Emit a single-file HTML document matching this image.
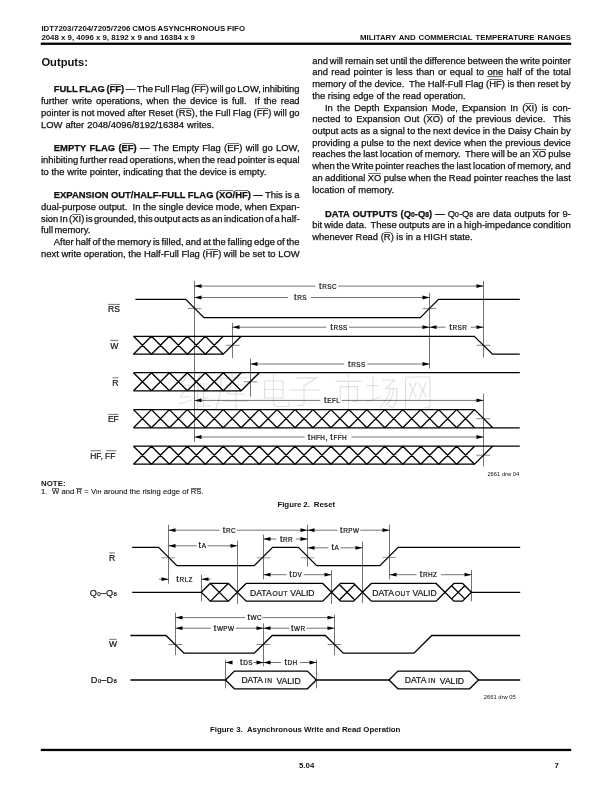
<!DOCTYPE html>
<html lang="en"><head><meta charset="utf-8"><title>IDT7203 page 7</title><style>

html,body{margin:0;padding:0;background:#fff;}
body{width:612px;height:792px;position:relative;overflow:hidden;font-family:"Liberation Sans",sans-serif;color:#111;}
.l{position:absolute;white-space:nowrap;line-height:21px;height:21px;}
.bt{font-size:9.42px;-webkit-text-stroke:0.25px #111;}
.sm{font-size:7.85px;font-weight:bold;}
.nt{font-size:7.6px;-webkit-text-stroke:0.1px #111;}
.h1{font-size:11.2px;font-weight:bold;line-height:20px;height:20px;}
.ov{background:linear-gradient(#111,#111) no-repeat 0 0.9px/100% 0.6px;}
.sm .ov,.nt .ov{background-position:0 1.1px;}
.ul{background:linear-gradient(#111,#111) no-repeat 0 9.6px/100% 0.6px;}
.sb{font-size:0.72em;}
.sc{font-size:0.72em;}
#pg{position:absolute;left:0;top:0;width:612px;height:792px;overflow:hidden;will-change:transform;filter:grayscale(1);background:#fff;}
svg{position:absolute;left:0;top:0;}
.dl{font-family:"Liberation Sans",sans-serif;fill:#111;stroke:#111;stroke-width:0.2px;}

</style></head><body><div id="pg">
<div class="l bt" id="t0" style="left:53.80px;top:78px;word-spacing:-1.004px;"><b>FULL FLAG (<span class="ov">FF</span>)</b> — The Full Flag (<span class="ov">FF</span>) will go LOW, inhibiting</div>
<div class="l bt" id="t1" style="left:41.00px;top:90px;word-spacing:1.359px;">further write operations, when the device is full.&nbsp; If the read</div>
<div class="l bt" id="t2" style="left:41.00px;top:102px;word-spacing:-0.235px;">pointer is not moved after Reset (<span class="ov">RS</span>), the Full Flag (<span class="ov">FF</span>) will go</div>
<div class="l bt" id="t3" style="left:41.00px;top:114px;word-spacing:0.351px;">LOW after 2048/4096/8192/16384 writes.</div>
<div class="l bt" id="t4" style="left:53.80px;top:137px;word-spacing:0.775px;"><b>EMPTY FLAG (<span class="ov">EF</span>)</b> — The Empty Flag (<span class="ov">EF</span>) will go LOW,</div>
<div class="l bt" id="t5" style="left:41.00px;top:149px;word-spacing:-0.841px;">inhibiting further read operations, when the read pointer is equal</div>
<div class="l bt" id="t6" style="left:41.00px;top:161px;word-spacing:0.013px;">to the write pointer, indicating that the device is empty.</div>
<div class="l bt" id="t7" style="left:53.80px;top:184px;word-spacing:-0.203px;"><b>EXPANSION OUT/HALF-FULL FLAG (<span class="ov">XO</span>/<span class="ov">HF</span>) —</b> This is a</div>
<div class="l bt" id="t8" style="left:41.00px;top:196px;word-spacing:0.030px;">dual-purpose output.&nbsp; In the single device mode, when Expan-</div>
<div class="l bt" id="t9" style="left:41.00px;top:208px;word-spacing:-1.104px;">sion In (<span class="ov">XI</span>) is grounded, this output acts as an indication of a half-</div>
<div class="l bt" id="t10" style="left:41.00px;top:219px;word-spacing:-1.231px;">full memory.</div>
<div class="l bt" id="t11" style="left:53.80px;top:231px;word-spacing:-0.761px;">After half of the memory is filled, and at the falling edge of the</div>
<div class="l bt" id="t12" style="left:41.00px;top:243px;word-spacing:-0.016px;">next write operation, the Half-Full Flag (<span class="ov">HF</span>) will be set to LOW</div>
<div class="l bt" id="t13" style="left:312.20px;top:50px;word-spacing:-0.632px;">and will remain set until the difference between the write pointer</div>
<div class="l bt" id="t14" style="left:312.20px;top:61px;word-spacing:0.824px;">and read pointer is less than or equal to <span class="ul">one</span> half of the total</div>
<div class="l bt" id="t15" style="left:312.20px;top:73px;word-spacing:-0.132px;">memory of the device.&nbsp; The Half-Full Flag (<span class="ov">HF</span>) is then reset by</div>
<div class="l bt" id="t16" style="left:312.20px;top:85px;word-spacing:-0.042px;">the rising edge of the read operation.</div>
<div class="l bt" id="t17" style="left:325.00px;top:97px;word-spacing:1.573px;">In the Depth Expansion Mode, Expansion In (<span class="ov">XI</span>) is con-</div>
<div class="l bt" id="t18" style="left:312.20px;top:108px;word-spacing:1.354px;">nected to Expansion Out (<span class="ov">XO</span>) of the previous device.&nbsp; This</div>
<div class="l bt" id="t19" style="left:312.20px;top:120px;word-spacing:-0.218px;">output acts as a signal to the next device in the Daisy Chain by</div>
<div class="l bt" id="t20" style="left:312.20px;top:132px;word-spacing:0.237px;">providing a pulse to the next device when the previous device</div>
<div class="l bt" id="t21" style="left:312.20px;top:143px;word-spacing:-0.381px;">reaches the last location of memory.&nbsp; There will be an <span class="ov">XO</span> pulse</div>
<div class="l bt" id="t22" style="left:312.20px;top:155px;word-spacing:-0.667px;">when the Write pointer reaches the last location of memory, and</div>
<div class="l bt" id="t23" style="left:312.20px;top:167px;word-spacing:-0.235px;">an additional <span class="ov">XO</span> pulse when the Read pointer reaches the last</div>
<div class="l bt" id="t24" style="left:312.20px;top:179px;word-spacing:0.305px;">location of memory.</div>
<div class="l bt" id="t25" style="left:325.00px;top:203px;word-spacing:0.507px;"><b>DATA OUTPUTS (Q<span class="sb">0</span>-Q<span class="sb">8</span>) —</b> Q<span class="sb">0</span>-Q<span class="sb">8</span> are data outputs for 9-</div>
<div class="l bt" id="t26" style="left:312.20px;top:214px;word-spacing:-0.531px;">bit wide data.&nbsp; These outputs are in a high-impedance condition</div>
<div class="l bt" id="t27" style="left:312.20px;top:226px;word-spacing:-0.002px;">whenever Read (<span class="ov">R</span>) is in a HIGH state.</div>
<div class="l sm" id="t28" style="left:41.40px;top:18px;word-spacing:-0.191px;">IDT7203/7204/7205/7206 CMOS ASYNCHRONOUS FIFO</div>
<div class="l sm" id="t29" style="left:41.40px;top:27px;word-spacing:0.007px;">2048 x 9, 4096 x 9, 8192 x 9 and 16384 x 9</div>
<div class="l sm" id="t30" style="left:360.00px;top:27px;word-spacing:0.746px;">MILITARY AND COMMERCIAL TEMPERATURE RANGES</div>
<div class="l h1" id="t31" style="left:41.40px;top:52px;">Outputs:</div>
<div class="l sm" id="t32" style="left:41.10px;top:473px;">NOTE:</div>
<div class="l nt" id="t33" style="left:41.10px;top:481px;word-spacing:0.180px;">1.&nbsp; <span class="ov">W</span> and <span class="ov">R</span> = V<span class="sc">IH</span> around the rising edge of <span class="ov">RS</span>.</div>
<div class="l sm" id="t34" style="left:277.40px;top:494px;word-spacing:-0.207px;">Figure 2.&nbsp; Reset</div>
<div class="l sm" id="t35" style="left:210.00px;top:719px;word-spacing:0.053px;">Figure 3.&nbsp; Asynchronous Write and Read Operation</div>
<div class="l sm" id="t36" style="left:299.00px;top:755px;">5.04</div>
<div class="l sm" id="t37" style="left:554.40px;top:755px;">7</div>
<svg width="612" height="792" viewBox="0 0 612 792">
<path transform="translate(-35.5 0)" d="M223 375L217 385H225L216 396M215 404L227 400M216 397H226M236 374L231 384M233 381V408M233 384H245M233 391H244M233 398H244M233 406H246M239 384V406" fill="none" stroke="#e0e0e0" stroke-width="1.15" stroke-linecap="round"/>
<path transform="translate(-30 0)" d="M262 373V377M250 378H277M251 378Q251 398 246 408M256 385H274M263 381L257 394H275M266 388V409M253 401H278" fill="none" stroke="#e0e0e0" stroke-width="1.15" stroke-linecap="round"/>
<path d="M264.5 381H283V398H264.5ZM264.5 389.5H283M273.5 375V403Q274 406.5 279 406.5H289V402M297 377.8H316.5L304 386V404Q304 406 298 405.5M290 390H319.5M348.5 374.5V377.5M335.8 381.3H361.3M340.3 386.6V401.5M340.3 386.6H357.4V400Q357.4 402 353 401.5M348.5 381.3V409M367 385.6H378.5M373 377V400M367 402L380 397M382.5 380H394.5L386 388.5H397Q397 407 391.5 407.5L389 406M390.5 388.5Q388 400 380 407M394 388.5Q393 398 386.5 405M405.6 377V408.5M405.6 377H430V405.5Q430 408 425 407.5M409.5 383L416 397M416 383L409 399M419 383L426 397M426 383L419 399" fill="none" stroke="#e0e0e0" stroke-width="1.15" stroke-linecap="round"/>
<path d="M135.4 299.4H185.7L203.9 317.6H420.3L438.5 299.4H519.8" fill="none" stroke="#000" stroke-width="1.3" stroke-linejoin="miter"/>
<path d="M133.50 336.3L151.45 354.2M133.50 354.2L151.45 336.3M151.45 336.3L169.40 354.2M151.45 354.2L169.40 336.3M169.40 336.3L187.35 354.2M169.40 354.2L187.35 336.3M187.35 336.3L205.30 354.2M187.35 354.2L205.30 336.3M205.30 336.3L223.25 354.2M205.30 354.2L223.25 336.3" fill="none" stroke="#000" stroke-width="1.3" stroke-linejoin="miter"/>
<path d="M133.5 354.2H223.25L241.15 336.3M133.5 336.3H474.3L492.5 354.2H519.8" fill="none" stroke="#000" stroke-width="1.3" stroke-linejoin="miter"/>
<path d="M133.50 372.7L151.45 390.8M133.50 390.8L151.45 372.7M151.45 372.7L169.40 390.8M151.45 390.8L169.40 372.7M169.40 372.7L187.35 390.8M169.40 390.8L187.35 372.7M187.35 372.7L205.30 390.8M187.35 390.8L205.30 372.7M205.30 372.7L223.25 390.8M205.30 390.8L223.25 372.7M223.25 372.7L241.20 390.8M223.25 390.8L241.20 372.7" fill="none" stroke="#000" stroke-width="1.3" stroke-linejoin="miter"/>
<path d="M133.5 390.8H241.20L259.30 372.7M133.5 372.7H519.8" fill="none" stroke="#000" stroke-width="1.3" stroke-linejoin="miter"/>
<path d="M133.50 409.6L151.45 427.8M133.50 427.8L151.45 409.6M151.45 409.6L169.40 427.8M151.45 427.8L169.40 409.6M169.40 409.6L187.35 427.8M169.40 427.8L187.35 409.6M187.35 409.6L205.30 427.8M187.35 427.8L205.30 409.6M205.30 409.6L223.25 427.8M205.30 427.8L223.25 409.6M223.25 409.6L241.20 427.8M223.25 427.8L241.20 409.6M241.20 409.6L259.15 427.8M241.20 427.8L259.15 409.6M259.15 409.6L277.10 427.8M259.15 427.8L277.10 409.6M277.10 409.6L295.05 427.8M277.10 427.8L295.05 409.6M295.05 409.6L313.00 427.8M295.05 427.8L313.00 409.6M313.00 409.6L330.95 427.8M313.00 427.8L330.95 409.6M330.95 409.6L348.90 427.8M330.95 427.8L348.90 409.6M348.90 409.6L366.85 427.8M348.90 427.8L366.85 409.6M366.85 409.6L384.80 427.8M366.85 427.8L384.80 409.6M384.80 409.6L402.75 427.8M384.80 427.8L402.75 409.6M402.75 409.6L420.70 427.8M402.75 427.8L420.70 409.6M420.70 409.6L438.65 427.8M420.70 427.8L438.65 409.6M438.65 409.6L456.60 427.8M438.65 427.8L456.60 409.6M456.60 409.6L474.55 427.8M456.60 427.8L474.55 409.6" fill="none" stroke="#000" stroke-width="1.3" stroke-linejoin="miter"/>
<path d="M133.5 409.6H474.55L492.75 427.8M133.5 427.8H519.8" fill="none" stroke="#000" stroke-width="1.3" stroke-linejoin="miter"/>
<path d="M133.50 446.2L151.45 464.2M133.50 464.2L151.45 446.2M151.45 446.2L169.40 464.2M151.45 464.2L169.40 446.2M169.40 446.2L187.35 464.2M169.40 464.2L187.35 446.2M187.35 446.2L205.30 464.2M187.35 464.2L205.30 446.2M205.30 446.2L223.25 464.2M205.30 464.2L223.25 446.2M223.25 446.2L241.20 464.2M223.25 464.2L241.20 446.2M241.20 446.2L259.15 464.2M241.20 464.2L259.15 446.2M259.15 446.2L277.10 464.2M259.15 464.2L277.10 446.2M277.10 446.2L295.05 464.2M277.10 464.2L295.05 446.2M295.05 446.2L313.00 464.2M295.05 464.2L313.00 446.2M313.00 446.2L330.95 464.2M313.00 464.2L330.95 446.2M330.95 446.2L348.90 464.2M330.95 464.2L348.90 446.2M348.90 446.2L366.85 464.2M348.90 464.2L366.85 446.2M366.85 446.2L384.80 464.2M366.85 464.2L384.80 446.2M384.80 446.2L402.75 464.2M384.80 464.2L402.75 446.2M402.75 446.2L420.70 464.2M402.75 464.2L420.70 446.2M420.70 446.2L438.65 464.2M420.70 464.2L438.65 446.2M438.65 446.2L456.60 464.2M438.65 464.2L456.60 446.2M456.60 446.2L474.55 464.2M456.60 464.2L474.55 446.2" fill="none" stroke="#000" stroke-width="1.3" stroke-linejoin="miter"/>
<path d="M133.5 464.2H474.55L492.55 446.2M133.5 446.2H519.8" fill="none" stroke="#000" stroke-width="1.3" stroke-linejoin="miter"/>
<path d="M194.5 281.1V441.7" fill="none" stroke="#000" stroke-width="0.55"/>
<path d="M232.5 322.8V358.2" fill="none" stroke="#000" stroke-width="0.55"/>
<path d="M250.5 358.7V396.7" fill="none" stroke="#000" stroke-width="0.55"/>
<path d="M429.5 292.9V368.5" fill="none" stroke="#000" stroke-width="0.55"/>
<path d="M483.5 281.0V357.6" fill="none" stroke="#000" stroke-width="0.55"/>
<path d="M483.5 393.7V466.5" fill="none" stroke="#000" stroke-width="0.55"/>
<path d="M187.7 308.6H201.3" fill="none" stroke="#222" stroke-width="0.55"/>
<path d="M226.0 345.3H239.60000000000002" fill="none" stroke="#222" stroke-width="0.55"/>
<path d="M243.79999999999998 381.8H257.4" fill="none" stroke="#222" stroke-width="0.55"/>
<path d="M422.7 308.6H436.3" fill="none" stroke="#222" stroke-width="0.55"/>
<path d="M476.7 345.3H490.3" fill="none" stroke="#222" stroke-width="0.55"/>
<path d="M476.5 418.7H490.1" fill="none" stroke="#222" stroke-width="0.55"/>
<path d="M476.5 455.2H490.1" fill="none" stroke="#222" stroke-width="0.55"/>
<path d="M194.5 286.1H315.3" fill="none" stroke="#000" stroke-width="0.55"/>
<path d="M338.2 286.1H483.5" fill="none" stroke="#000" stroke-width="0.55"/>
<path d="M194.5 286.1L201.50 284.20000000000005V288.0Z" fill="#000"/>
<path d="M483.5 286.1L476.50 284.20000000000005V288.0Z" fill="#000"/>
<text class="dl" x="319.0" y="288.6" font-size="9.0">t<tspan dx="0.7" font-size="6.4" letter-spacing="0.4">RSC</tspan></text>
<path d="M194.5 297.5H288.1" fill="none" stroke="#000" stroke-width="0.55"/>
<path d="M311.1 297.5H429.5" fill="none" stroke="#000" stroke-width="0.55"/>
<path d="M194.5 297.5L201.50 295.6V299.4Z" fill="#000"/>
<path d="M429.5 297.5L422.50 295.6V299.4Z" fill="#000"/>
<text class="dl" x="294.0" y="299.9" font-size="9.0">t<tspan dx="0.7" font-size="6.4" letter-spacing="0.4">RS</tspan></text>
<path d="M232.5 327.2H326.4" fill="none" stroke="#000" stroke-width="0.55"/>
<path d="M349.0 327.2H429.5" fill="none" stroke="#000" stroke-width="0.55"/>
<path d="M232.5 327.2L239.50 325.3V329.09999999999997Z" fill="#000"/>
<path d="M429.5 327.2L422.50 325.3V329.09999999999997Z" fill="#000"/>
<text class="dl" x="330.2" y="329.8" font-size="9.0">t<tspan dx="0.7" font-size="6.4" letter-spacing="0.4">RSS</tspan></text>
<path d="M429.5 327.2H445.6" fill="none" stroke="#000" stroke-width="0.55"/>
<path d="M470.6 327.2H483.5" fill="none" stroke="#000" stroke-width="0.55"/>
<path d="M429.5 327.2L436.50 325.3V329.09999999999997Z" fill="#000"/>
<path d="M483.5 327.2L476.50 325.3V329.09999999999997Z" fill="#000"/>
<text class="dl" x="449.3" y="329.9" font-size="9.0">t<tspan dx="0.7" font-size="6.4" letter-spacing="0.4">RSR</tspan></text>
<path d="M250.5 364.0H344.1" fill="none" stroke="#000" stroke-width="0.55"/>
<path d="M367.3 364.0H429.5" fill="none" stroke="#000" stroke-width="0.55"/>
<path d="M250.5 364.0L257.50 362.1V365.9Z" fill="#000"/>
<path d="M429.5 364.0L422.50 362.1V365.9Z" fill="#000"/>
<text class="dl" x="348.1" y="366.8" font-size="9.0">t<tspan dx="0.7" font-size="6.4" letter-spacing="0.4">RSS</tspan></text>
<path d="M194.5 400.4H320.4" fill="none" stroke="#000" stroke-width="0.55"/>
<path d="M341.7 400.4H483.5" fill="none" stroke="#000" stroke-width="0.55"/>
<path d="M194.5 400.4L201.50 398.5V402.29999999999995Z" fill="#000"/>
<path d="M483.5 400.4L476.50 398.5V402.29999999999995Z" fill="#000"/>
<text class="dl" x="324.1" y="402.8" font-size="9.0">t<tspan dx="0.7" font-size="6.4" letter-spacing="0.4">EFL</tspan></text>
<path d="M194.5 437.0H304.6" fill="none" stroke="#000" stroke-width="0.55"/>
<path d="M351.5 437.0H483.5" fill="none" stroke="#000" stroke-width="0.55"/>
<path d="M194.5 437.0L201.50 435.1V438.9Z" fill="#000"/>
<path d="M483.5 437.0L476.50 435.1V438.9Z" fill="#000"/>
<text class="dl" x="307.7" y="440.0" font-size="9">t<tspan dx="0.7" font-size="6.4" letter-spacing="0.4">HFH</tspan><tspan font-size="9">, t</tspan><tspan dx="0.7" font-size="6.4" letter-spacing="0.4">FFH</tspan></text>
<text class="dl" x="108.0" y="311.7" font-size="8.6" text-anchor="start">RS</text>
<path d="M108.2 304.4H120.0" fill="none" stroke="#111" stroke-width="0.6"/>
<text class="dl" x="110.2" y="348.6" font-size="8.6" text-anchor="start">W</text>
<path d="M110.4 340.4H118.2" fill="none" stroke="#111" stroke-width="0.6"/>
<text class="dl" x="112.3" y="385.7" font-size="8.6" text-anchor="start">R</text>
<path d="M112.5 377.8H118.4" fill="none" stroke="#111" stroke-width="0.6"/>
<text class="dl" x="107.9" y="421.7" font-size="8.6" text-anchor="start">EF</text>
<path d="M108.2 414.4H118.5" fill="none" stroke="#111" stroke-width="0.6"/>
<text class="dl" x="90.2" y="458.6" font-size="8.4" text-anchor="start">HF, FF</text>
<path d="M90.4 450.7H101.0" fill="none" stroke="#111" stroke-width="0.6"/>
<path d="M106.2 450.7H116.2" fill="none" stroke="#111" stroke-width="0.6"/>
<text class="dl" x="487.4" y="475.6" font-size="5.8" style="stroke-width:0">2661 drw 04</text>
<path d="M132.2 547.4H158.6L176.9 565.6H254.3L272.6 547.4H298.4L316.7 565.6H379.9L398.2 547.4H520.2" fill="none" stroke="#000" stroke-width="1.3" stroke-linejoin="miter"/>
<path d="M132.2 592.3H201.3" fill="none" stroke="#000" stroke-width="1.3" stroke-linejoin="miter"/>
<path d="M201.3 592.3L210.15 583.45H228.45L237.3 592.3L228.45 601.15H210.15Z" fill="none" stroke="#000" stroke-width="1.3" stroke-linejoin="miter"/>
<path d="M210.45 583.45L228.15 601.15M210.45 601.15L228.15 583.45" fill="none" stroke="#000" stroke-width="1.3" stroke-linejoin="miter"/>
<path d="M237.3 592.3L246.15 583.45H322.75L331.6 592.3L322.75 601.15H246.15Z" fill="none" stroke="#000" stroke-width="1.3" stroke-linejoin="miter"/>
<path d="M331.6 592.3L340.45 583.45H353.65L362.5 592.3L353.65 601.15H340.45Z" fill="none" stroke="#000" stroke-width="1.3" stroke-linejoin="miter"/>
<path d="M339.33 584.57L354.77 600.02M339.33 600.02L354.77 584.57" fill="none" stroke="#000" stroke-width="1.3" stroke-linejoin="miter"/>
<path d="M362.5 592.3L371.35 583.45H436.15L445.0 592.3L436.15 601.15H371.35Z" fill="none" stroke="#000" stroke-width="1.3" stroke-linejoin="miter"/>
<path d="M445.0 592.3L453.85 583.45H462.55L471.4 592.3L462.55 601.15H453.85Z" fill="none" stroke="#000" stroke-width="1.3" stroke-linejoin="miter"/>
<path d="M451.60 585.70L464.80 598.90M451.60 598.90L464.80 585.70" fill="none" stroke="#000" stroke-width="1.3" stroke-linejoin="miter"/>
<path d="M471.4 592.3H520.2" fill="none" stroke="#000" stroke-width="1.3" stroke-linejoin="miter"/>
<path d="M130.4 635.5H166.0L184.0 653.2H254.3L272.3 635.5H325.4L343.3 653.2H414.0L431.8 635.5H520.2" fill="none" stroke="#000" stroke-width="1.3" stroke-linejoin="miter"/>
<path d="M130.4 680.0H225.5" fill="none" stroke="#000" stroke-width="1.3" stroke-linejoin="miter"/>
<path d="M225.5 680.0L234.40 671.1H307.40L316.3 680.0L307.40 688.8H234.40Z" fill="none" stroke="#000" stroke-width="1.3" stroke-linejoin="miter"/>
<path d="M316.3 680.0H389.0" fill="none" stroke="#000" stroke-width="1.3" stroke-linejoin="miter"/>
<path d="M389.0 680.0L397.90 671.1H469.60L478.5 680.0L469.60 688.8H397.90Z" fill="none" stroke="#000" stroke-width="1.3" stroke-linejoin="miter"/>
<path d="M478.5 680.0H520.2" fill="none" stroke="#000" stroke-width="1.3" stroke-linejoin="miter"/>
<path d="M168.5 524.8V583.6" fill="none" stroke="#000" stroke-width="0.55"/>
<path d="M201.5 574.6V601.3" fill="none" stroke="#000" stroke-width="0.55"/>
<path d="M237.5 540.6V604.0" fill="none" stroke="#000" stroke-width="0.55"/>
<path d="M263.5 534.6V579.3" fill="none" stroke="#000" stroke-width="0.55"/>
<path d="M307.5 524.8V566.5" fill="none" stroke="#000" stroke-width="0.55"/>
<path d="M331.5 570.1V604.0" fill="none" stroke="#000" stroke-width="0.55"/>
<path d="M362.5 541.4V603.0" fill="none" stroke="#000" stroke-width="0.55"/>
<path d="M389.5 524.8V579.3" fill="none" stroke="#000" stroke-width="0.55"/>
<path d="M471.5 570.0V601.4" fill="none" stroke="#000" stroke-width="0.55"/>
<path d="M175.5 612.7V655.2" fill="none" stroke="#000" stroke-width="0.55"/>
<path d="M263.5 623.3V666.2" fill="none" stroke="#000" stroke-width="0.55"/>
<path d="M334.5 614.7V655.2" fill="none" stroke="#000" stroke-width="0.55"/>
<path d="M225.5 659.6V688.3" fill="none" stroke="#000" stroke-width="0.55"/>
<path d="M316.5 659.6V688.3" fill="none" stroke="#000" stroke-width="0.55"/>
<path d="M161.2 557.8H174.8" fill="none" stroke="#444" stroke-width="0.55"/>
<path d="M256.8 557.8H270.40000000000003" fill="none" stroke="#444" stroke-width="0.55"/>
<path d="M300.9 557.8H314.5" fill="none" stroke="#444" stroke-width="0.55"/>
<path d="M382.5 557.4H396.1" fill="none" stroke="#444" stroke-width="0.55"/>
<path d="M168.39999999999998 644.5H182.0" fill="none" stroke="#222" stroke-width="0.55"/>
<path d="M256.59999999999997 644.5H270.2" fill="none" stroke="#222" stroke-width="0.55"/>
<path d="M327.7 644.5H341.3" fill="none" stroke="#222" stroke-width="0.55"/>
<path d="M168.5 530.2H219.6" fill="none" stroke="#000" stroke-width="0.55"/>
<path d="M236.8 530.2H307.5" fill="none" stroke="#000" stroke-width="0.55"/>
<path d="M168.5 530.2L175.50 528.3000000000001V532.1Z" fill="#000"/>
<path d="M307.5 530.2L300.50 528.3000000000001V532.1Z" fill="#000"/>
<text class="dl" x="222.8" y="533.1" font-size="9.0">t<tspan dx="0.7" font-size="6.4" letter-spacing="0.4">RC</tspan></text>
<path d="M307.5 530.2H337.5" fill="none" stroke="#000" stroke-width="0.55"/>
<path d="M360.3 530.2H389.5" fill="none" stroke="#000" stroke-width="0.55"/>
<path d="M307.5 530.2L314.50 528.3000000000001V532.1Z" fill="#000"/>
<path d="M389.5 530.2L382.50 528.3000000000001V532.1Z" fill="#000"/>
<text class="dl" x="340.0" y="533.1" font-size="9.0">t<tspan dx="0.7" font-size="6.4" letter-spacing="0.4">RPW</tspan></text>
<path d="M168.5 545.8H196.8" fill="none" stroke="#000" stroke-width="0.55"/>
<path d="M207.7 545.8H237.5" fill="none" stroke="#000" stroke-width="0.55"/>
<path d="M168.5 545.8L175.50 543.9V547.6999999999999Z" fill="#000"/>
<path d="M237.5 545.8L230.50 543.9V547.6999999999999Z" fill="#000"/>
<text class="dl" x="198.6" y="548.0" font-size="9.0">t<tspan dx="0.7" font-size="6.4" letter-spacing="0.4">A</tspan></text>
<path d="M307.5 547.8H328.2" fill="none" stroke="#000" stroke-width="0.55"/>
<path d="M340.6 547.8H362.5" fill="none" stroke="#000" stroke-width="0.55"/>
<path d="M307.5 547.8L314.50 545.9V549.6999999999999Z" fill="#000"/>
<path d="M362.5 547.8L355.50 545.9V549.6999999999999Z" fill="#000"/>
<text class="dl" x="331.4" y="550.3" font-size="9.0">t<tspan dx="0.7" font-size="6.4" letter-spacing="0.4">A</tspan></text>
<path d="M263.5 539.0H276.4" fill="none" stroke="#000" stroke-width="0.55"/>
<path d="M296.0 539.0H307.5" fill="none" stroke="#000" stroke-width="0.55"/>
<path d="M263.5 539.0L270.50 537.1V540.9Z" fill="#000"/>
<path d="M307.5 539.0L300.50 537.1V540.9Z" fill="#000"/>
<text class="dl" x="279.9" y="541.6" font-size="9.0">t<tspan dx="0.7" font-size="6.4" letter-spacing="0.4">RR</tspan></text>
<path d="M263.5 574.7H286.5" fill="none" stroke="#000" stroke-width="0.55"/>
<path d="M303.6 574.7H331.5" fill="none" stroke="#000" stroke-width="0.55"/>
<path d="M263.5 574.7L270.50 572.8000000000001V576.6Z" fill="#000"/>
<path d="M331.5 574.7L324.50 572.8000000000001V576.6Z" fill="#000"/>
<text class="dl" x="289.3" y="577.4" font-size="9.0">t<tspan dx="0.7" font-size="6.4" letter-spacing="0.4">DV</tspan></text>
<path d="M389.5 574.7H416.5" fill="none" stroke="#000" stroke-width="0.55"/>
<path d="M441.2 574.7H471.5" fill="none" stroke="#000" stroke-width="0.55"/>
<path d="M389.5 574.7L396.50 572.8000000000001V576.6Z" fill="#000"/>
<path d="M471.5 574.7L464.50 572.8000000000001V576.6Z" fill="#000"/>
<text class="dl" x="419.8" y="577.4" font-size="9.0">t<tspan dx="0.7" font-size="6.4" letter-spacing="0.4">RHZ</tspan></text>
<path d="M159.0 579.2H168.5" fill="none" stroke="#000" stroke-width="0.55"/>
<path d="M168.5 579.2L161.50 577.3000000000001V581.1Z" fill="#000"/>
<path d="M201.5 579.2H210.7" fill="none" stroke="#000" stroke-width="0.55"/>
<path d="M201.5 579.2L208.50 577.3000000000001V581.1Z" fill="#000"/>
<text class="dl" x="176.2" y="582.1" font-size="9.0">t<tspan dx="0.7" font-size="6.4" letter-spacing="0.4">RLZ</tspan></text>
<path d="M175.5 617.6H245.0" fill="none" stroke="#000" stroke-width="0.55"/>
<path d="M262.3 617.6H334.5" fill="none" stroke="#000" stroke-width="0.55"/>
<path d="M175.5 617.6L182.50 615.7V619.5Z" fill="#000"/>
<path d="M334.5 617.6L327.50 615.7V619.5Z" fill="#000"/>
<text class="dl" x="247.4" y="620.4" font-size="9.0">t<tspan dx="0.7" font-size="6.4" letter-spacing="0.4">WC</tspan></text>
<path d="M175.5 628.2H211.0" fill="none" stroke="#000" stroke-width="0.55"/>
<path d="M235.8 628.2H263.5" fill="none" stroke="#000" stroke-width="0.55"/>
<path d="M175.5 628.2L182.50 626.3000000000001V630.1Z" fill="#000"/>
<path d="M263.5 628.2L256.50 626.3000000000001V630.1Z" fill="#000"/>
<text class="dl" x="213.7" y="631.0" font-size="9.0">t<tspan dx="0.7" font-size="6.4" letter-spacing="0.4">WPW</tspan></text>
<path d="M263.5 628.2H289.3" fill="none" stroke="#000" stroke-width="0.55"/>
<path d="M306.3 628.2H334.5" fill="none" stroke="#000" stroke-width="0.55"/>
<path d="M263.5 628.2L270.50 626.3000000000001V630.1Z" fill="#000"/>
<path d="M334.5 628.2L327.50 626.3000000000001V630.1Z" fill="#000"/>
<text class="dl" x="290.9" y="631.0" font-size="9.0">t<tspan dx="0.7" font-size="6.4" letter-spacing="0.4">WR</tspan></text>
<path d="M225.5 662.5H232.3" fill="none" stroke="#000" stroke-width="0.55"/>
<path d="M253.6 662.5H263.5" fill="none" stroke="#000" stroke-width="0.55"/>
<path d="M225.5 662.5L232.50 660.6V664.4Z" fill="#000"/>
<path d="M263.5 662.5L256.50 660.6V664.4Z" fill="#000"/>
<text class="dl" x="240.0" y="665.3" font-size="9.0">t<tspan dx="0.7" font-size="6.4" letter-spacing="0.4">DS</tspan></text>
<path d="M263.5 662.5H281.2" fill="none" stroke="#000" stroke-width="0.55"/>
<path d="M300.0 662.5H316.5" fill="none" stroke="#000" stroke-width="0.55"/>
<path d="M263.5 662.5L270.50 660.6V664.4Z" fill="#000"/>
<path d="M316.5 662.5L309.50 660.6V664.4Z" fill="#000"/>
<text class="dl" x="284.4" y="665.3" font-size="9.0">t<tspan dx="0.7" font-size="6.4" letter-spacing="0.4">DH</tspan></text>
<text class="dl" x="109.0" y="560.8" font-size="8.6" text-anchor="start">R</text>
<path d="M109.2 552.9H115.0" fill="none" stroke="#111" stroke-width="0.6"/>
<text class="dl" x="117.0" y="595.8" font-size="9.2" letter-spacing="0.2" text-anchor="end">Q<tspan font-size="6.1">0</tspan>–Q<tspan font-size="6.1">8</tspan></text>
<text class="dl" x="108.9" y="647.4" font-size="8.6" text-anchor="start">W</text>
<path d="M109.1 639.3H116.6" fill="none" stroke="#111" stroke-width="0.6"/>
<text class="dl" x="117.0" y="682.9" font-size="9.2" letter-spacing="0.2" text-anchor="end">D<tspan font-size="6.1">0</tspan>–D<tspan font-size="6.1">8</tspan></text>
<text class="dl" y="595.6" font-size="8.6"><tspan x="250.0">DATA</tspan><tspan x="272.6" font-size="6.6" letter-spacing="0.55">OUT</tspan><tspan x="290.3" dy="0.0" font-size="8.6">VALID</tspan></text>
<text class="dl" y="595.6" font-size="8.6"><tspan x="372.3">DATA</tspan><tspan x="394.9" font-size="6.6" letter-spacing="0.55">OUT</tspan><tspan x="412.5" dy="0.0" font-size="8.6">VALID</tspan></text>
<text class="dl" y="682.8" font-size="8.6"><tspan x="241.4">DATA</tspan><tspan x="264.8" font-size="6.6" letter-spacing="0.7">IN</tspan><tspan x="276.5" dy="0.8" font-size="8.6">VALID</tspan></text>
<text class="dl" y="682.8" font-size="8.6"><tspan x="404.8">DATA</tspan><tspan x="428.2" font-size="6.6" letter-spacing="0.7">IN</tspan><tspan x="439.8" dy="0.8" font-size="8.6">VALID</tspan></text>
<text class="dl" x="483.8" y="699.4" font-size="5.8" style="stroke-width:0">2661 drw 05</text>
<rect x="40.8" y="42.6" width="530.4" height="2.3" fill="#000"/>
<rect x="40.8" y="748.8" width="530.4" height="2.3" fill="#000"/>
</svg></div></body></html>
